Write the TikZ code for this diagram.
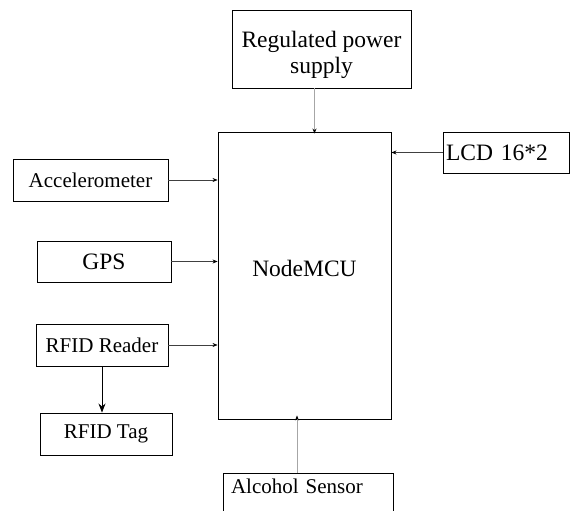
\documentclass[tikz,border=0pt]{standalone}
\usepackage{fontspec}
\setmainfont{Liberation Serif}
\usetikzlibrary{arrows.meta}

\tikzset{
  blockbox/.style={draw, line width=0.9pt, inner sep=2pt, align=center,
    font=\fontsize{21}{25}\selectfont},
  bigbox/.style={blockbox, font=\fontsize{23.5}{26}\selectfont},
  feed/.style={line width=0.6pt, draw=black!75, -{Stealth[length=5pt,width=4pt,black]}},
  feedgray/.style={line width=1pt, draw=black!35, -{Stealth[length=5pt,width=4pt,black]}},
  tagline/.style={line width=0.9pt, -{Stealth[length=9pt,width=7pt]}}
}

\begin{document}
\begin{tikzpicture}[x=1pt,y=-1pt]
\useasboundingbox (0,0) rectangle (571,511);
% ---------- controller ----------
\node[bigbox, minimum width=173, minimum height=287, text depth=14pt] (mcu) at (304.5,275.5) {NodeMCU};
% ---------- supply and display ----------
\node[bigbox, minimum width=179, minimum height=78, text height=55pt] (power) at (321.5,49) {Regulated power\\supply};
\node[bigbox, minimum width=126, minimum height=41, text width=120, align=left] (lcd) at (506,152.5) {LCD 16*2};
% ---------- inputs on the left ----------
\node[blockbox, minimum width=155, minimum height=42] (acc) at (90.5,180) {Accelerometer};
\node[bigbox, minimum width=134, minimum height=41] (gps) at (104,261.5) {GPS};
\node[blockbox, minimum width=132, minimum height=42] (reader) at (102,345) {RFID Reader};
\node[blockbox, minimum width=132, minimum height=42] (tag) at (106,434) {RFID Tag};
% ---------- sensor below ----------
\node[blockbox, anchor=north, text width=154, align=left, inner xsep=8pt, inner ysep=5pt,
  text depth=30pt] (alcohol) at (308,473) {Alcohol Sensor};
% ---------- connections ----------
\draw[feedgray] ([xshift=-7pt]power.south) -- ([xshift=-7pt,yshift=-2pt]power.south |- mcu.north);
\draw[feed] (lcd.west) -- (lcd.west -| mcu.east);
\draw[feed] (acc.east) -- (acc.east -| mcu.west);
\draw[feed] (gps.east) -- (gps.east -| mcu.west);
\draw[feed] (reader.east) -- (reader.east -| mcu.west);
\draw[tagline] (reader.south) -- (reader.south |- tag.north);
\draw[feedgray] ([xshift=-11pt]alcohol.north) -- ([xshift=-11pt,yshift=4pt]alcohol.north |- mcu.south);
\end{tikzpicture}
\end{document}
